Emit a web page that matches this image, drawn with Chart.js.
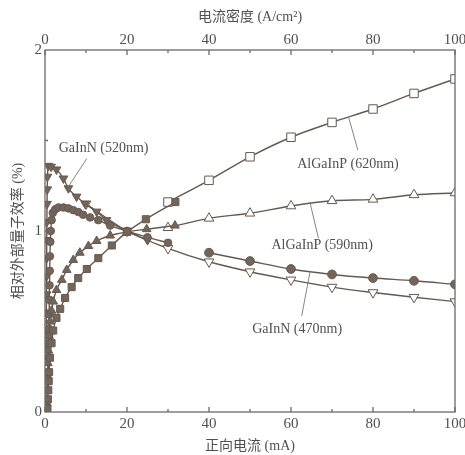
<!DOCTYPE html>
<html>
<head>
<meta charset="utf-8">
<script src="https://cdn.jsdelivr.net/npm/chart.js@4/dist/chart.umd.min.js"></script>
<style>
  html, body { margin: 0; padding: 0; background: #fff; }
  #wrap { width: 465px; height: 455px; }
</style>
</head>
<body>
<div id="wrap"><canvas id="eqeChart"></canvas></div>
<script>
// AlGaInP 620nm - filled squares (low current) and open squares
const x620Low = [0.6, 0.7, 0.8, 0.9, 1.0, 1.2, 1.6, 2.0, 2.8, 3.7, 4.9, 6.5, 8.1, 10.2, 13, 16.3, 20, 24.6, 31.8];
const y620Low = [0.02, 0.07, 0.12, 0.17, 0.22, 0.30, 0.38, 0.45, 0.52, 0.57, 0.63, 0.69, 0.74, 0.79, 0.85, 0.92, 0.995, 1.065, 1.16];
const x620High = [30, 40, 50, 60, 70, 80, 90, 100];
const y620High = [1.16, 1.28, 1.41, 1.518, 1.60, 1.674, 1.76, 1.84];

// AlGaInP 590nm - triangles
const x590Low = [0.4, 0.5, 0.6, 0.7, 0.8, 1.0, 1.2, 1.6, 2.0, 2.8, 4.1, 5.3, 6.9, 8.5, 10.6, 12.6, 15.9, 20, 24.8, 31.7];
const y590Low = [0.05, 0.12, 0.2, 0.27, 0.34, 0.42, 0.5, 0.56, 0.61, 0.674, 0.73, 0.785, 0.84, 0.88, 0.917, 0.945, 0.975, 0.995, 1.01, 1.03];
const x590High = [30, 40, 50, 60, 70, 80, 90, 100];
const y590High = [1.018, 1.07, 1.098, 1.138, 1.167, 1.175, 1.20, 1.21];

// GaInN 520nm - circles
const x520Low = [0.8, 0.85, 0.9, 0.95, 1.0, 1.05, 1.1, 1.15, 1.2, 1.3, 1.4, 1.6, 1.9, 2.5, 3.3, 4.5, 5.7, 6.9, 8.1, 9.3, 11, 13, 15.9, 20, 25, 30];
const y520Low = [0.22, 0.3, 0.38, 0.46, 0.54, 0.62, 0.7, 0.78, 0.86, 0.94, 1.0, 1.06, 1.1, 1.12, 1.13, 1.13, 1.125, 1.115, 1.105, 1.09, 1.075, 1.06, 1.03, 1.0, 0.965, 0.935];
const x520High = [40, 50, 60, 70, 80, 90, 100];
const y520High = [0.88, 0.834, 0.79, 0.76, 0.74, 0.725, 0.705];

// GaInN 470nm - down triangles
const x470Low = [0.3, 0.32, 0.34, 0.36, 0.38, 0.4, 0.43, 0.46, 0.5, 0.55, 0.6, 0.8, 1.5, 2.8, 4.5, 5.7, 7.7, 9.8, 12.6, 15, 20, 25];
const y470Low = [0.35, 0.45, 0.55, 0.65, 0.75, 0.85, 0.95, 1.05, 1.15, 1.23, 1.3, 1.36, 1.355, 1.34, 1.29, 1.236, 1.19, 1.15, 1.107, 1.06, 1.0, 0.95];
const x470High = [10, 20, 30, 40, 50, 60, 70, 80, 90, 100];
const y470High = [1.15, 1.0, 0.904, 0.83, 0.775, 0.73, 0.69, 0.66, 0.634, 0.61];

const xTicks = [0, 20, 40, 60, 80, 100];
const yTicks = [0, 1, 2];

const ink = '#66594f';
const markFill = '#74655a';
const textGray = '#505050';
const serif = "'Liberation Serif', 'Noto Sans CJK SC', serif";

function pts(xs, ys) {
    return xs.map(function(x, i) { return { x: x, y: ys[i] }; });
}

function series(xs, ys, style, open, radius, rotation) {
    return {
        data: pts(xs, ys),
        showLine: true,
        borderColor: ink,
        borderWidth: 1.4,
        cubicInterpolationMode: 'monotone',
        pointStyle: style,
        pointRotation: rotation || 0,
        pointRadius: radius,
        pointBorderWidth: 1,
        pointBorderColor: ink,
        pointBackgroundColor: open ? '#ffffff' : markFill
    };
}

// leader labels: text position and line ends in data units
const labels = [
    { text: 'GaInN (520nm)', tx: 14.3, ty: 1.455, from: [10.2, 1.40], to: [5.7, 1.245] },
    { text: 'AlGaInP (620nm)', tx: 73.9, ty: 1.37, from: [76.3, 1.447], to: [74.1, 1.625] },
    { text: 'AlGaInP (590nm)', tx: 67.6, ty: 0.92, from: [66.7, 0.96], to: [64.6, 1.16] },
    { text: 'GaInN (470nm)', tx: 61.5, ty: 0.455, from: [62.6, 0.53], to: [64.6, 0.77] }
];

const decor = {
    id: 'decor',
    afterDatasetsDraw(chart) {
        const ctx = chart.ctx;
        const a = chart.chartArea;
        const xs = chart.scales.x, ys = chart.scales.y;
        ctx.save();
        ctx.strokeStyle = '#6a6a6a';
        ctx.lineWidth = 1.3;
        ctx.strokeRect(a.left, a.top, a.right - a.left, a.bottom - a.top);
        ctx.beginPath();
        for (let v = 0; v <= 100; v += 10) {
            const px = xs.getPixelForValue(v);
            const len = v % 20 === 0 ? 5 : 3;
            ctx.moveTo(px, a.bottom); ctx.lineTo(px, a.bottom - len);
            ctx.moveTo(px, a.top); ctx.lineTo(px, a.top + len);
        }
        [0.5, 1, 1.5].forEach(function(v) {
            const py = ys.getPixelForValue(v);
            const len = v === 1 ? 5 : 3;
            ctx.moveTo(a.left, py); ctx.lineTo(a.left + len, py);
        });
        ctx.stroke();

        ctx.strokeStyle = '#777';
        ctx.lineWidth = 0.9;
        ctx.fillStyle = textGray;
        ctx.font = '14px ' + serif;
        ctx.textAlign = 'center';
        ctx.textBaseline = 'middle';
        labels.forEach(function(l) {
            ctx.beginPath();
            ctx.moveTo(xs.getPixelForValue(l.from[0]), ys.getPixelForValue(l.from[1]));
            ctx.lineTo(xs.getPixelForValue(l.to[0]), ys.getPixelForValue(l.to[1]));
            ctx.stroke();
            ctx.fillText(l.text, xs.getPixelForValue(l.tx), ys.getPixelForValue(l.ty));
        });
        ctx.restore();
    }
};

function xAxis(pos, title, height, tickPad, titlePad) {
    return {
        type: 'linear',
        position: pos,
        min: 0,
        max: 100,
        afterBuildTicks: function(s) { s.ticks = xTicks.map(function(v) { return { value: v }; }); },
        afterFit: function(s) { s.height = height; s.paddingLeft = 0; s.paddingRight = 0; },
        grid: { display: false, drawTicks: false },
        border: { display: false },
        ticks: { color: textGray, padding: tickPad, maxRotation: 0, font: { family: serif, size: 15 } },
        title: { display: true, text: title, color: textGray, padding: titlePad, font: { family: serif, size: 14 } }
    };
}

const ctx = document.getElementById('eqeChart').getContext('2d');
new Chart(ctx, {
    type: 'scatter',
    data: {
        datasets: [
            series(x620Low, y620Low, 'rect', false, 5),
            series(x620High, y620High, 'rect', true, 6),
            series(x590Low, y590Low, 'triangle', false, 5),
            series(x590High, y590High, 'triangle', true, 5.6),
            series(x520Low, y520Low, 'circle', false, 3.8),
            series(x520High, y520High, 'circle', false, 4.4),
            series(x470Low, y470Low, 'triangle', false, 5, 180),
            series(x470High, y470High, 'triangle', true, 5.6, 180)
        ]
    },
    options: {
        responsive: true,
        maintainAspectRatio: false,
        animation: false,
        layout: { padding: { left: 0, right: 10, top: 0, bottom: 0 } },
        plugins: { legend: { display: false }, tooltip: { enabled: false } },
        scales: {
            x: xAxis('bottom', '正向电流 (mA)', 43, 3, { top: 4, bottom: 0 }),
            x2: xAxis('top', '电流密度 (A/cm²)', 50, 1, { top: 9, bottom: 0 }),
            y: {
                type: 'linear',
                position: 'left',
                min: 0,
                max: 2,
                afterBuildTicks: function(s) { s.ticks = yTicks.map(function(v) { return { value: v }; }); },
                afterFit: function(s) { s.width = 45; },
                grid: { display: false, drawTicks: false },
                border: { display: false },
                ticks: { color: textGray, padding: 3, font: { family: serif, size: 15 } },
                title: { display: true, text: '相对外部量子效率 (%)', color: textGray, padding: { top: 10, bottom: 0 }, font: { family: serif, size: 14 } }
            }
        }
    },
    plugins: [decor]
});
</script>
</body>
</html>
